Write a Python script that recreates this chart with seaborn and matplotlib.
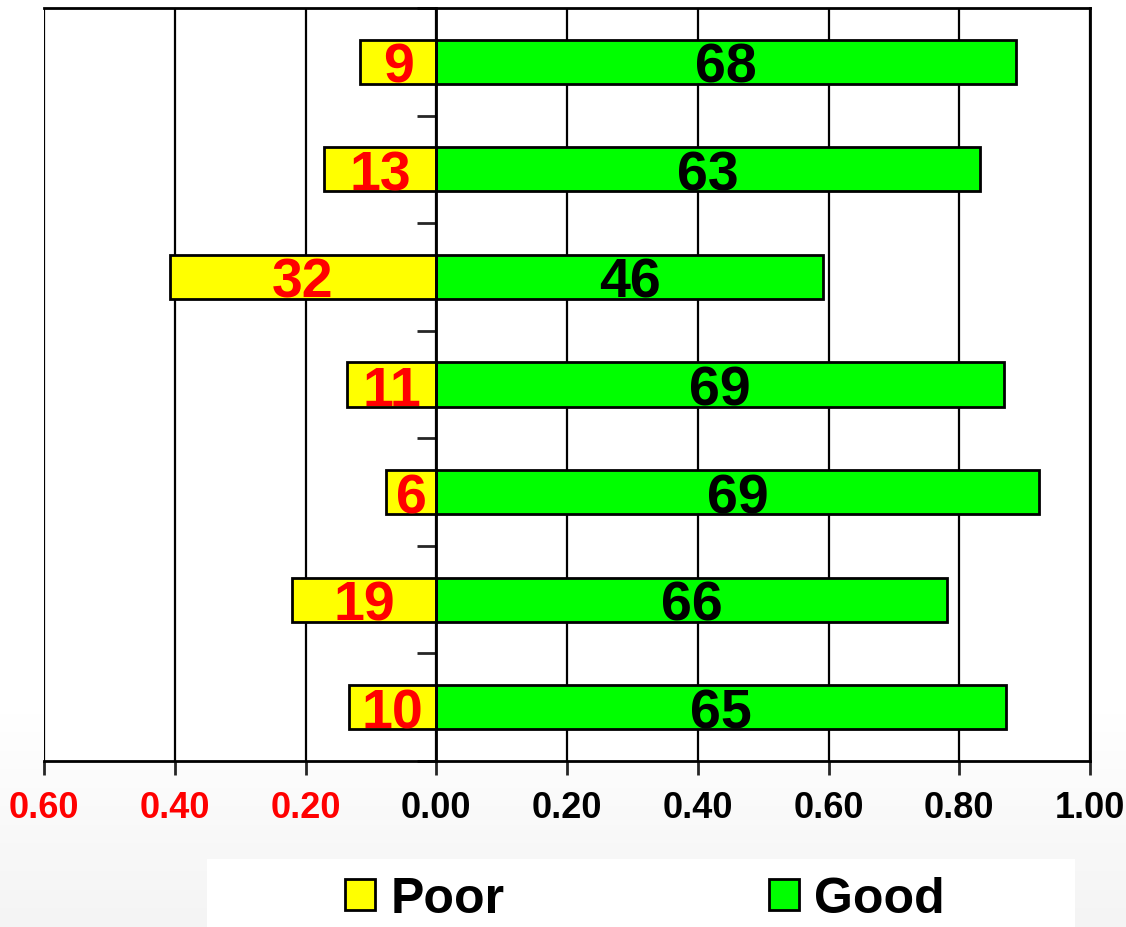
import numpy as np
import pandas as pd
import matplotlib
matplotlib.use("Agg")
import matplotlib.pyplot as plt
import seaborn as sns

# categories (no labels shown on the chart), top to bottom
groups = ["G1", "G2", "G3", "G4", "G5", "G6", "G7"]
# bar lengths
poor_share = [0.116, 0.171, 0.408, 0.136, 0.077, 0.221, 0.133]
good_share = [0.887, 0.831, 0.592, 0.868, 0.922, 0.782, 0.871]
# numbers printed on the bars
poor_labels = [9, 13, 32, 11, 6, 19, 10]
good_labels = [68, 63, 46, 69, 69, 66, 65]
x_ticks = [-0.6, -0.4, -0.2, 0.0, 0.2, 0.4, 0.6, 0.8, 1.0]

df = pd.DataFrame({"group": groups,
                   "poor": [-v for v in poor_share],
                   "good": good_share})

sns.set_style("white")
plt.rcParams["font.family"] = ["Liberation Sans", "DejaVu Sans"]
plt.rcParams["font.weight"] = "bold"
plt.rcParams["text.color"] = "black"

fig = plt.figure(figsize=(11.26, 9.28), dpi=100)

# soft grey backdrop towards the bottom of the slide
bg = fig.add_axes([0, 0, 1, 1], zorder=-10)
shade = np.concatenate([np.zeros(76), np.linspace(0, 0.09, 24)])[:, None]
bg.imshow(shade, aspect="auto", cmap="Greys", vmin=0, vmax=1,
          extent=[0, 1, 0, 1], origin="upper")
bg.axis("off")

ax = fig.add_axes([44 / 1126, 1 - 762 / 928, 1046 / 1126, 753 / 928])
ax.set_facecolor("white")

sns.barplot(data=df, x="poor", y="group", orient="h", color="#FFFF00",
            width=0.41, edgecolor="black", linewidth=2, label="Poor",
            saturation=1, ax=ax, zorder=3)
sns.barplot(data=df, x="good", y="group", orient="h", color="#00FF00",
            width=0.41, edgecolor="black", linewidth=2, label="Good",
            saturation=1, ax=ax, zorder=3)

for i in range(len(groups)):
    ax.text(df["poor"][i] / 2, i, str(poor_labels[i]), color="#FF0000",
            fontsize=40, fontweight="bold", ha="center",
            va="center_baseline", zorder=5)
    ax.text(df["good"][i] / 2, i, str(good_labels[i]), color="black",
            fontsize=40, fontweight="bold", ha="center",
            va="center_baseline", zorder=5)

ax.set_xlim(-0.6, 1.0)
ax.set_ylim(len(groups) - 0.5, -0.5)
ax.set_xlabel("")
ax.set_ylabel("")

# vertical grid
for xv in x_ticks:
    ax.axvline(xv, color="black", linewidth=1.6, zorder=1)

ax.set_xticks(x_ticks)
ax.set_xticklabels([f"{abs(v):.2f}" for v in x_ticks])
for lab, v in zip(ax.get_xticklabels(), x_ticks):
    lab.set_color("#FF0000" if v < 0 else "black")
    lab.set_fontsize(26)
    lab.set_fontweight("bold")
ax.tick_params(axis="x", direction="out", length=10, width=2, pad=11,
               bottom=True)

ax.set_yticks(np.arange(-0.5, len(groups), 1.0))
ax.set_yticklabels([])
ax.tick_params(axis="y", direction="out", length=14, width=2, left=True)

ax.spines["left"].set_position(("data", 0))
for s in ax.spines.values():
    s.set_linewidth(2)
    s.set_color("black")
    s.set_zorder(4)

if ax.get_legend() is not None:
    ax.get_legend().remove()

# white band holding the legend
fig.patches.append(plt.Rectangle((207 / 1126, 0), 868 / 1126, 68 / 928,
                                 transform=fig.transFigure,
                                 facecolor="white", edgecolor="none",
                                 zorder=-5))
handles, labels = ax.get_legend_handles_labels()
leg = fig.legend(handles, labels, loc="center", bbox_to_anchor=(0.573, 0.03),
                 ncol=2, frameon=False, handlelength=0.6,
                 handleheight=0.6, handletextpad=0.3, columnspacing=5.3,
                 prop={"weight": "bold", "size": 36})
for t in leg.get_texts():
    t.set_color("black")

fig.savefig("out.png", dpi=100)
